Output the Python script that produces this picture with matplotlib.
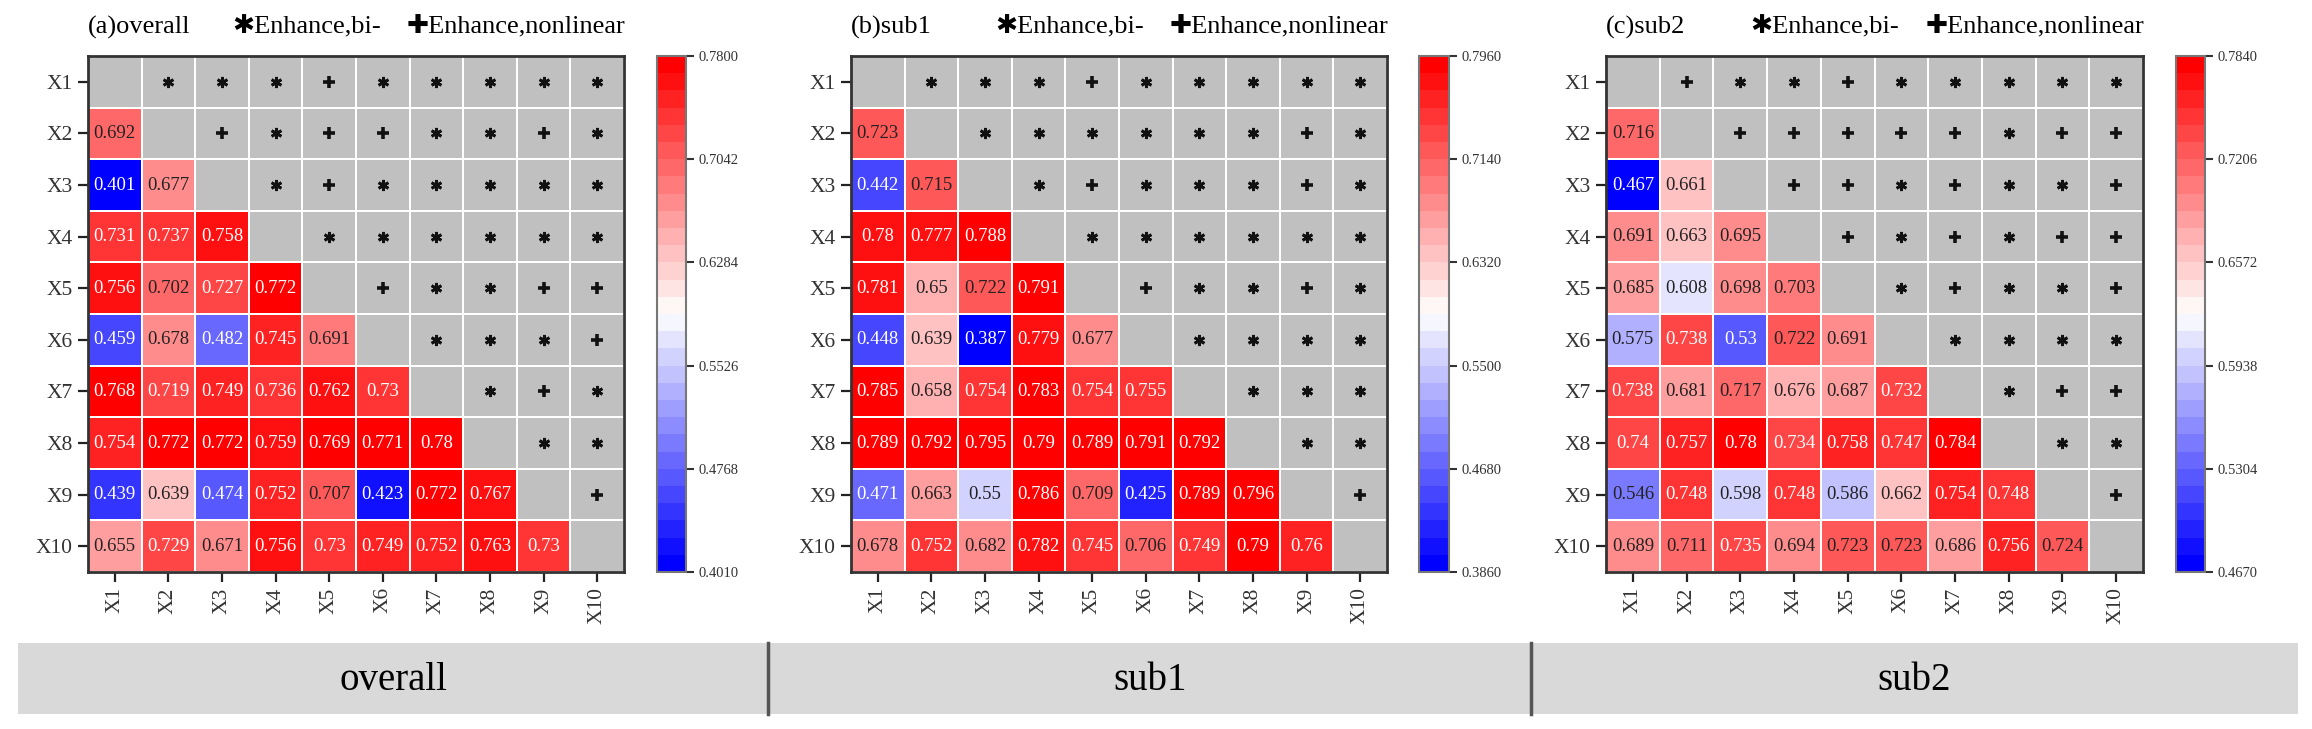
import numpy as np
import matplotlib
matplotlib.use("Agg")
import matplotlib.pyplot as plt
from matplotlib.colors import ListedColormap
from matplotlib.patches import Rectangle
from matplotlib.lines import Line2D

names = ["X1", "X2", "X3", "X4", "X5", "X6", "X7", "X8", "X9", "X10"]
panel_titles = ["(a)overall", "(b)sub1", "(c)sub2"]
group_labels = ["overall", "sub1", "sub2"]
vmins = [0.4010, 0.3860, 0.4670]
vmaxs = [0.7800, 0.7960, 0.7840]

# lower triangle, row i holds the values against X1..X(i)
overall_vals = [
    [0.692],
    [0.401, 0.677],
    [0.731, 0.737, 0.758],
    [0.756, 0.702, 0.727, 0.772],
    [0.459, 0.678, 0.482, 0.745, 0.691],
    [0.768, 0.719, 0.749, 0.736, 0.762, 0.73],
    [0.754, 0.772, 0.772, 0.759, 0.769, 0.771, 0.78],
    [0.439, 0.639, 0.474, 0.752, 0.707, 0.423, 0.772, 0.767],
    [0.655, 0.729, 0.671, 0.756, 0.73, 0.749, 0.752, 0.763, 0.73],
]
sub1_vals = [
    [0.723],
    [0.442, 0.715],
    [0.78, 0.777, 0.788],
    [0.781, 0.65, 0.722, 0.791],
    [0.448, 0.639, 0.387, 0.779, 0.677],
    [0.785, 0.658, 0.754, 0.783, 0.754, 0.755],
    [0.789, 0.792, 0.795, 0.79, 0.789, 0.791, 0.792],
    [0.471, 0.663, 0.55, 0.786, 0.709, 0.425, 0.789, 0.796],
    [0.678, 0.752, 0.682, 0.782, 0.745, 0.706, 0.749, 0.79, 0.76],
]
sub2_vals = [
    [0.716],
    [0.467, 0.661],
    [0.691, 0.663, 0.695],
    [0.685, 0.608, 0.698, 0.703],
    [0.575, 0.738, 0.53, 0.722, 0.691],
    [0.738, 0.681, 0.717, 0.676, 0.687, 0.732],
    [0.74, 0.757, 0.78, 0.734, 0.758, 0.747, 0.784],
    [0.546, 0.748, 0.598, 0.748, 0.586, 0.662, 0.754, 0.748],
    [0.689, 0.711, 0.735, 0.694, 0.723, 0.723, 0.686, 0.756, 0.724],
]

# upper triangle, row i: interaction type against X(i+2)..X10
# '*' = Enhance,bi-   '+' = Enhance,nonlinear
overall_marks = ["***+*****", "+*++**+*", "*+*****", "******", "+**++", "***+", "*+*", "**", "+"]
sub1_marks = ["***+*****", "******+*", "*+***+*", "******", "+**+*", "****", "***", "**", "+"]
sub2_marks = ["+**+*****", "+++++*++", "++*+**+", "+*+*++", "*+**+", "****", "*++", "**", "+"]

all_vals = [overall_vals, sub1_vals, sub2_vals]
all_marks = [overall_marks, sub1_marks, sub2_marks]

W, H = 2312, 729
serif = ["Liberation Serif", "DejaVu Serif"]
gray = "#c0c0c0"
cmap = ListedColormap(plt.cm.bwr(np.linspace(0, 1, 30)))
cmap.set_bad(gray)

fig = plt.figure(figsize=(W / 100, H / 100), dpi=100)

# pixel boxes: heatmap left, right; colorbar left, right
heat_x = [(88, 624), (851, 1387), (1606, 2143)]
cbar_x = [(657, 686), (1419, 1449), (2176, 2205)]
top_px, bot_px = 56, 572


def fx(px):
    return px / W


def fy(py):
    return 1 - py / H


def fmt(v):
    return ("%.3f" % v).rstrip("0")


for k in range(3):
    n = len(names)
    mat = np.full((n, n), np.nan)
    for i, row in enumerate(all_vals[k]):
        mat[i + 1, :len(row)] = row
    mat = np.ma.masked_invalid(mat)

    l, r = heat_x[k]
    ax = fig.add_axes([fx(l), fy(bot_px), fx(r - l), (bot_px - top_px) / H])
    mesh = ax.pcolormesh(np.arange(n + 1), np.arange(n + 1), mat, cmap=cmap,
                         vmin=vmins[k], vmax=vmaxs[k], edgecolors="white", linewidth=1.2)
    ax.set_xlim(0, n)
    ax.set_ylim(n, 0)

    span = vmaxs[k] - vmins[k]
    for i, row in enumerate(all_vals[k]):
        for j, v in enumerate(row):
            t = (v - vmins[k]) / span
            c = "white" if (t > 0.83 or t < 0.22) else "#222222"
            ax.text(j + 0.5, i + 1.5, fmt(v), ha="center", va="center",
                    fontsize=13.5, color=c, family=serif)

    for i, s in enumerate(all_marks[k]):
        for j, m in enumerate(s):
            col = i + 1 + j
            if m == "*":
                ax.plot(col + 0.5, i + 0.5, marker=(6, 2, 0), ms=8, mew=2, color="#111111")
            else:
                ax.plot(col + 0.5, i + 0.5, marker="+", ms=9, mew=2.6, color="#111111")

    ax.set_xticks(np.arange(n) + 0.5)
    ax.set_yticks(np.arange(n) + 0.5)
    ax.set_xticklabels(names, rotation=90, fontsize=15.5, family=serif, color="#333333")
    ax.set_yticklabels(names, fontsize=15.5, family=serif, color="#333333")
    ax.tick_params(length=7, width=1.6, color="#222222", pad=4)
    for sp in ax.spines.values():
        sp.set_color("#333333")
        sp.set_linewidth(2)

    # title line with legend symbols
    ty = fy(27)
    fig.text(fx(l), ty, panel_titles[k], ha="left", va="center", fontsize=19, family=serif)
    fig.text(fx(l + 144), ty, "\u2731Enhance,bi-", ha="left", va="center", fontsize=19,
             family=["Liberation Serif", "DejaVu Sans"])
    fig.text(fx(r + 1), ty, "\u271aEnhance,nonlinear", ha="right", va="center", fontsize=19,
             family=["Liberation Serif", "DejaVu Sans"])

    cl, cr = cbar_x[k]
    cax = fig.add_axes([fx(cl), fy(bot_px), fx(cr - cl), (bot_px - top_px) / H])
    cb = fig.colorbar(mesh, cax=cax)
    ticks = np.linspace(vmins[k], vmaxs[k], 6)
    cb.set_ticks(ticks)
    cb.set_ticklabels(["%.4f" % t for t in ticks])
    cb.outline.set_edgecolor("#777777")
    cb.outline.set_linewidth(1.5)
    cax.tick_params(length=6, width=1.5, color="#333333", labelsize=10.5, pad=3)
    for lab in cax.get_yticklabels():
        lab.set_family(serif)
        lab.set_color("#333333")

# bottom band with group names
band = Rectangle((fx(18), fy(714)), fx(2298 - 18), (714 - 643) / H, transform=fig.transFigure,
                 facecolor="#d9d9d9", edgecolor="none")
fig.add_artist(band)
for xd in [768, 1531]:
    fig.add_artist(Line2D([fx(xd), fx(xd)], [fy(714), fy(643)], transform=fig.transFigure,
                          color="#555555", lw=2.5))
for lab, xc in zip(group_labels, [393, 1150, 1914]):
    fig.text(fx(xc), fy(680), lab, ha="center", va="center", fontsize=28, family=serif)

fig.savefig("out.png", dpi=100)
